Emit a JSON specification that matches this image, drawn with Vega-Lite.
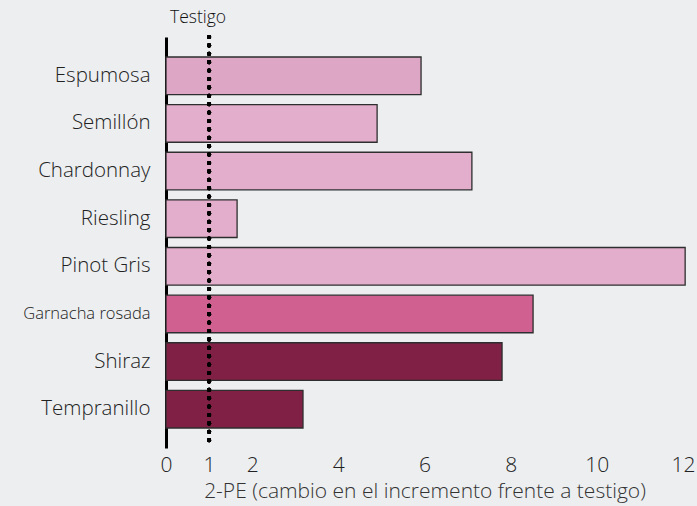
{
  "$schema": "https://vega.github.io/schema/vega-lite/v6.json",
  "autosize": {"type": "none"},
  "padding": {"left": 166, "top": 37, "right": 14, "bottom": 58},
  "width": 517,
  "height": 411,
  "background": "#eceef0",
  "title": {"text": "Testigo", "anchor": "start", "frame": "group", "dx": 4, "offset": 8, "fontSize": 17.5, "fontWeight": 300, "font": "Open Sans", "color": "#111"},
  "data": {"values": [
    {"vino": "Espumosa", "pe": 5.92, "tipo": "espumoso"},
    {"vino": "Semillón", "pe": 4.9, "tipo": "blanco"},
    {"vino": "Chardonnay", "pe": 7.1, "tipo": "blanco"},
    {"vino": "Riesling", "pe": 1.65, "tipo": "blanco"},
    {"vino": "Pinot Gris", "pe": 12.05, "tipo": "blanco"},
    {"vino": "Garnacha rosada", "pe": 8.52, "tipo": "rosado"},
    {"vino": "Shiraz", "pe": 7.8, "tipo": "tinto"},
    {"vino": "Tempranillo", "pe": 3.18, "tipo": "tinto"}
  ]},
  "config": {
    "view": {"stroke": null},
    "font": "Open Sans"
  },
  "layer": [
    {
      "mark": {"type": "bar", "stroke": "#2e2e2e", "strokeWidth": 1.3, "clip": false},
      "encoding": {
        "y": {
          "field": "vino", "type": "nominal", "sort": null,
          "scale": {"paddingInner": 0.21, "paddingOuter": 0.42},
          "axis": {
            "title": null, "ticks": false, "domainColor": "#000", "domainWidth": 3,
            "labelFontSize": {"condition": {"test": "datum.value == 'Garnacha rosada'", "value": 16.5}, "value": 20.5},
            "labelFontWeight": 300,
            "labelColor": "#222", "labelPadding": 16, "labelFont": "Open Sans", "labelLimit": 200
          }
        },
        "x": {
          "field": "pe", "type": "quantitative",
          "scale": {"domain": [0, 12], "nice": false},
          "axis": {
            "values": [0, 1, 2, 4, 6, 8, 10, 12], "grid": false, "domain": false, "ticks": false,
            "labelFontSize": 21, "labelFontWeight": 300, "labelColor": "#222", "labelPadding": 6, "labelFlush": false,
            "title": "2-PE (cambio en el incremento frente a testigo)",
            "titleFontSize": 21, "titleFontWeight": 300, "titleColor": "#333", "titlePadding": 5
          }
        },
        "color": {
          "field": "tipo", "type": "nominal", "legend": null,
          "scale": {"domain": ["espumoso", "blanco", "rosado", "tinto"], "range": ["#dea6c5", "#e2aecb", "#d06090", "#802045"]}
        }
      }
    },
    {
      "mark": {"type": "rule", "color": "#000", "strokeWidth": 4.2, "strokeDash": [0, 8.4], "strokeCap": "round"},
      "encoding": {"x": {"datum": 1}}
    }
  ]
}
